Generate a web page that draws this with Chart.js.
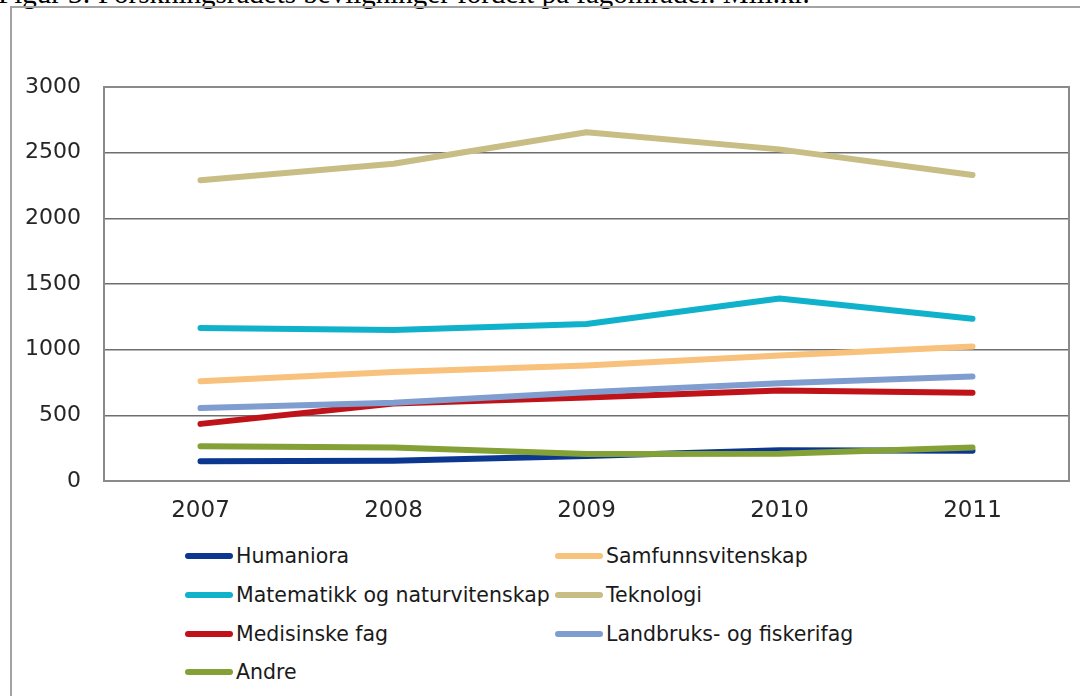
<!DOCTYPE html>
<html>
<head>
<meta charset="utf-8">
<script src="https://cdn.jsdelivr.net/npm/chart.js@4"></script>
<style>
  body { margin: 0; background: #fff; width: 1080px; height: 696px; overflow: hidden; position: relative; font-family: "DejaVu Sans", sans-serif; }
  #title { position: absolute; left: -2px; top: -23px; font: 29px "Liberation Serif", serif; color: #000; white-space: nowrap; }
  #frame { position: absolute; left: 10px; top: 6px; width: 1200px; height: 800px; border: 2px solid #a3a3a3; background: transparent; }
  #wrap { position: absolute; left: 0; top: 0; width: 1080px; height: 540px; }
  #legend { position: absolute; left: 185px; top: 540px; width: 800px; }
  .item { position: absolute; display: flex; align-items: center; font-size: 20.5px; color: #1a1a1a; white-space: nowrap; }
  .item span.sw { display: inline-block; width: 48px; height: 6px; border-radius: 3px; margin-right: 3px; }
</style>
</head>
<body>
<div id="title">Figur 3: Forskningsrådets bevilgninger fordelt på fagområder. Mill.kr.</div>
<div id="frame"></div>
<div id="wrap"><canvas id="chart"></canvas></div>
<div id="legend"></div>
<script>
// Data
const years = ['2007', '2008', '2009', '2010', '2011'];
const seriesNames = ['Humaniora', 'Samfunnsvitenskap', 'Matematikk og naturvitenskap', 'Teknologi', 'Medisinske fag', 'Landbruks- og fiskerifag', 'Andre'];
const humaniora = [150, 155, 190, 235, 230];
const samfunnsvitenskap = [760, 830, 880, 955, 1025];
const matematikk = [1165, 1150, 1195, 1390, 1235];
const teknologi = [2290, 2415, 2655, 2525, 2330];
const medisinske = [435, 590, 635, 690, 672];
const landbruks = [555, 595, 675, 745, 795];
const andre = [265, 255, 205, 207, 255];
const seriesColors = ['#0b3790', '#f8c17c', '#10b1cb', '#c8bd84', '#bf1319', '#7f9dcf', '#83a136'];

const seriesValues = [humaniora, samfunnsvitenskap, matematikk, teknologi, medisinske, landbruks, andre];

// Рамка вокруг области графика
const frameBox = {
    id: 'frameBox',
    afterDraw(chart) {
        const a = chart.chartArea;
        const ctx = chart.ctx;
        ctx.save();
        ctx.strokeStyle = '#8a8a8a';
        ctx.lineWidth = 2;
        ctx.strokeRect(a.left, a.top, a.right - a.left, a.bottom - a.top);
        ctx.restore();
    }
};

const ctx = document.getElementById('chart').getContext('2d');
new Chart(ctx, {
    type: 'line',
    data: {
        labels: years,
        datasets: seriesNames.map((name, i) => ({
            label: name,
            data: seriesValues[i],
            borderColor: seriesColors[i],
            backgroundColor: seriesColors[i],
            borderWidth: 6,
            borderCapStyle: 'round',
            borderJoinStyle: 'round',
            pointRadius: 0,
            tension: 0,
            order: seriesNames.length - i
        }))
    },
    options: {
        responsive: true,
        maintainAspectRatio: false,
        animation: false,
        layout: { padding: { left: 0, top: 87, right: 11, bottom: 0 } },
        plugins: {
            legend: { display: false },
            tooltip: { enabled: false }
        },
        scales: {
            x: {
                offset: true,
                grid: { display: false, drawTicks: false },
                border: { display: true, color: '#8a8a8a', width: 2 },
                ticks: { color: '#262626', font: { family: 'DejaVu Sans', size: 23 }, padding: 16 },
                afterFit(scale) { scale.height = 59; }
            },
            y: {
                min: 0,
                max: 3000,
                grid: { color: '#6e6e6e', lineWidth: 1.5, drawTicks: false },
                border: { display: true, color: '#8a8a8a', width: 2 },
                ticks: {
                    stepSize: 500,
                    color: '#262626',
                    font: { family: 'DejaVu Sans', size: 22 },
                    padding: 23,
                    callback: value => String(value)
                },
                afterFit(scale) { scale.width = 104; }
            }
        }
    },
    plugins: [frameBox]
});

// Легенда в две колонки
const legend = document.getElementById('legend');
const colX = [0, 370];
const rowY = [4, 43, 82, 120];
seriesNames.forEach((name, i) => {
    const el = document.createElement('div');
    el.className = 'item';
    el.style.left = colX[i % 2] + 'px';
    el.style.top = rowY[Math.floor(i / 2)] + 'px';
    el.innerHTML = `<span class="sw" style="background:${seriesColors[i]}"></span>${name}`;
    legend.appendChild(el);
});
</script>
</body>
</html>
